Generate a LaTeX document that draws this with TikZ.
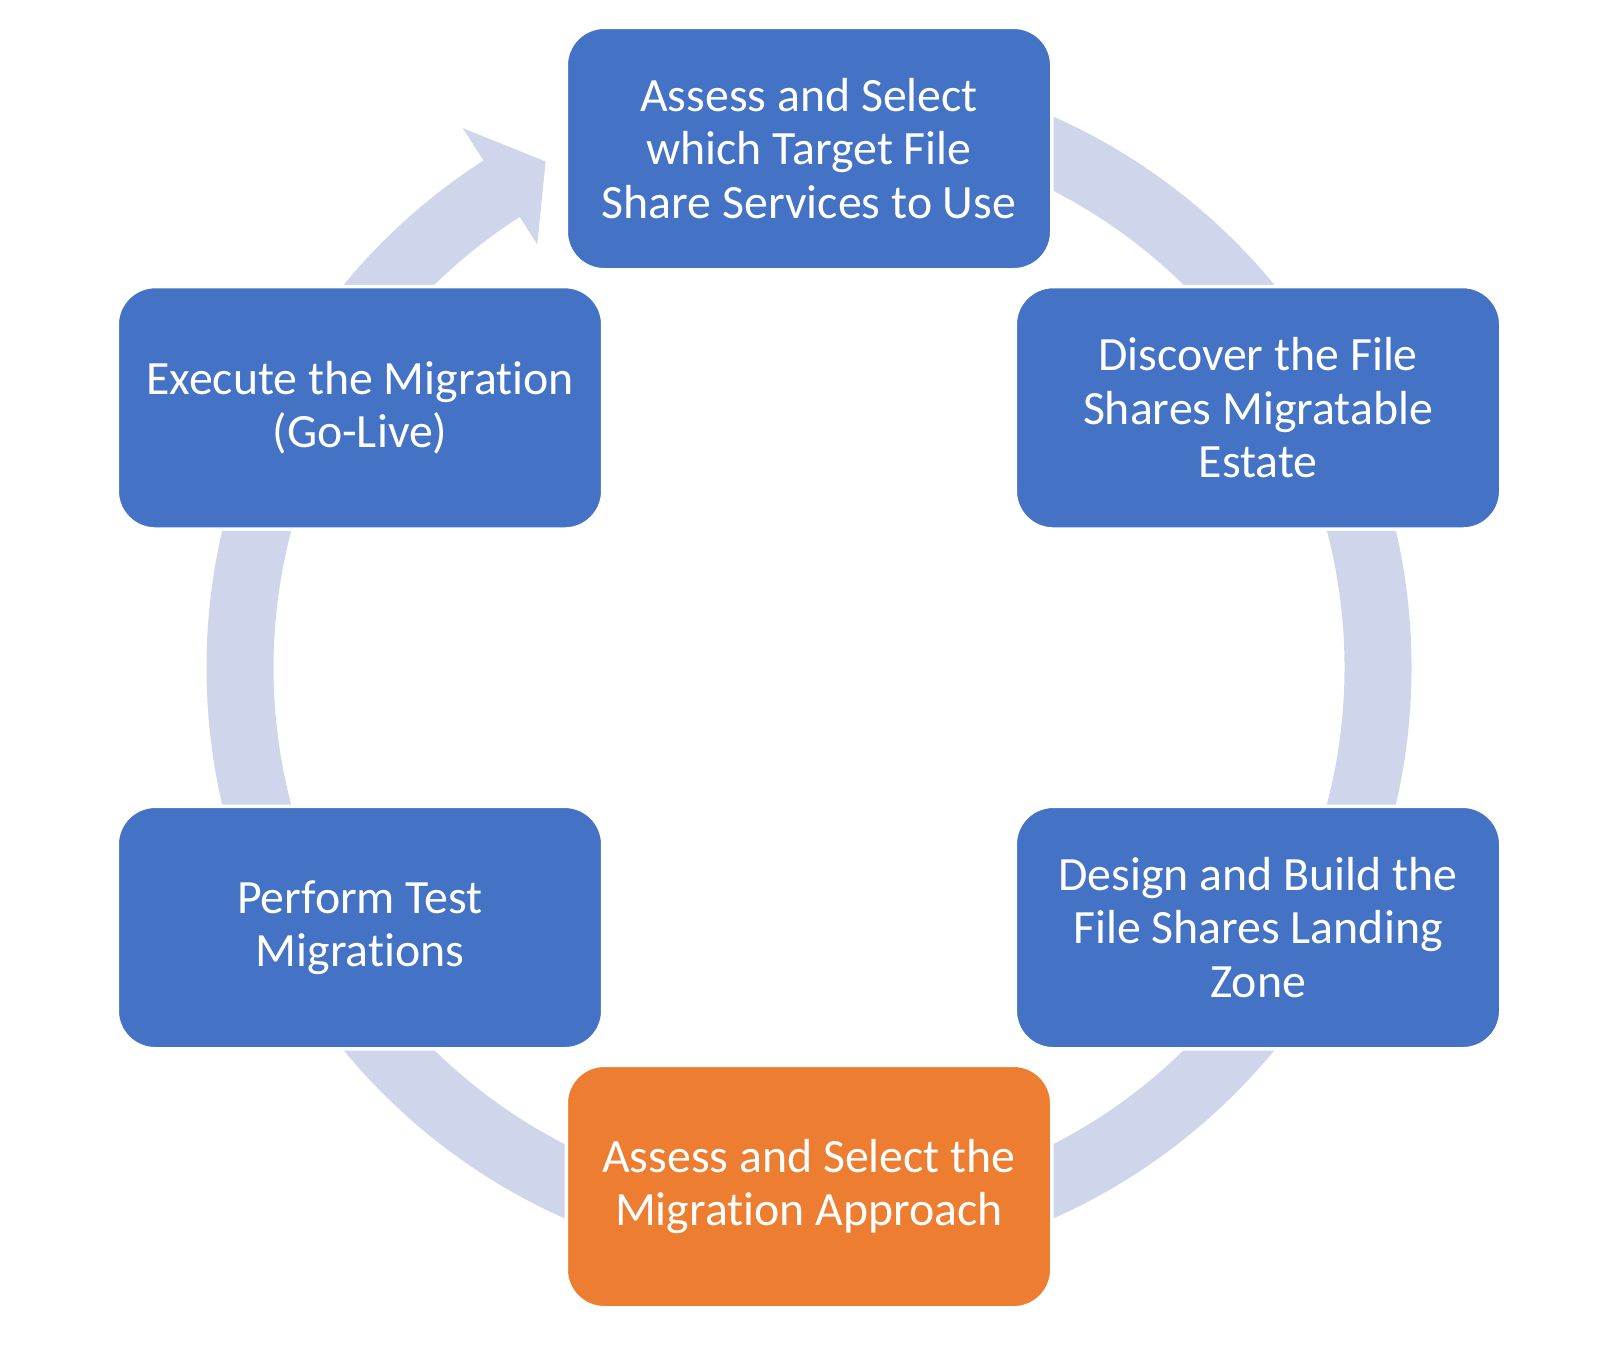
\documentclass[tikz,border=0pt]{standalone}
\usepackage{fontspec}
\setmainfont{Carlito}[Ligatures=NoCommon]
\usetikzlibrary{positioning,calc}
\definecolor{stepblue}{HTML}{4472C4}
\definecolor{steporange}{HTML}{ED7D31}
\definecolor{ringgrey}{HTML}{CFD5EA}
\tikzstyle{stepbox}=[rectangle, rounded corners=3.8mm, draw=white, line width=1pt, fill=stepblue, text=white, minimum width=48.55mm, minimum height=24.25mm, inner sep=2pt, align=center, font=\fontsize{13.6}{15.2}\selectfont]
\tikzstyle{hibox}=[stepbox, fill=steporange]
\tikzstyle{ring}=[-, line width=6.7mm, ringgrey]

\begin{document}
\begin{tikzpicture}[node distance=0mm]
\useasboundingbox (0,0) rectangle (16,-13.5);
\coordinate (c) at (8.09,-6.675);

% cycle ring and its arrow head
\draw[ring] ($(c)+(90:5.69)$) arc[start angle=90, end angle=-237.6, radius=5.69];
\fill[ringgrey] ($(c)+(122.7:6.41)$) -- ($(c)+(117.5:5.705)$) -- ($(c)+(122.7:5.03)$) -- cycle;

% steps
\node (assess) [stepbox, above=3.96cm of c] {Assess and Select\\which Target File\\Share Services to Use};
\node (discover) [stepbox, above right=1.367cm and 2.045cm of c] {Discover the File\\Shares Migratable\\Estate};
\node (design) [stepbox, below right=1.37cm and 2.045cm of c] {Design and Build the\\File Shares Landing\\Zone};
\node (approach) [hibox, below=3.96cm of c] {Assess and Select the\\Migration Approach};
\node (testmig) [stepbox, below left=1.37cm and 2.045cm of c] {Perform Test\\Migrations};
\node (golive) [stepbox, above left=1.367cm and 2.045cm of c] {Execute the Migration\\(Go-Live)};

\end{tikzpicture}
\end{document}
